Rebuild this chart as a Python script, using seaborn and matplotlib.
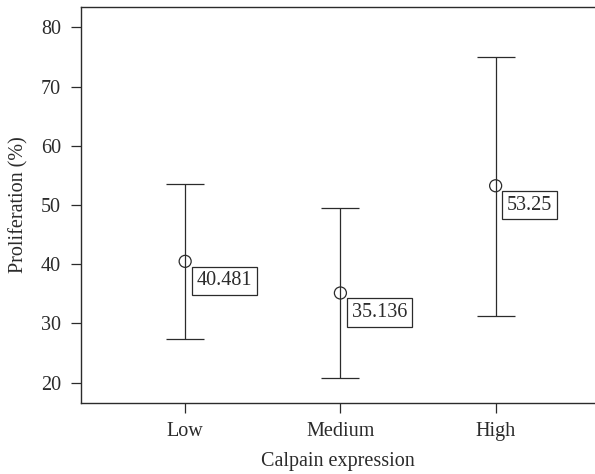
import matplotlib
matplotlib.use("Agg")
import matplotlib.pyplot as plt
import numpy as np
import pandas as pd
import seaborn as sns

# values
categories = ["Low", "Medium", "High"]
means = [40.481, 35.136, 53.25]
upper = [53.5, 49.5, 75.0]
lower = [27.4, 20.7, 31.3]
labels = ["40.481", "35.136", "53.25"]

sns.set_theme(style="ticks")
plt.rcParams["font.family"] = ["Liberation Serif", "DejaVu Serif"]

ink = "#2b2b2b"
fs = 14.5
df = pd.DataFrame({"group": categories, "mean": means,
                   "upper": upper, "lower": lower, "label": labels})
df["pos"] = np.arange(len(df))

fig = plt.figure(figsize=(5.95, 4.74), dpi=100)
ax = fig.add_axes([0.1356, 0.1504, 0.8644, 0.8342])

yerr = np.vstack([df["mean"] - df["lower"], df["upper"] - df["mean"]])
ax.errorbar(df["pos"], df["mean"], yerr=yerr, fmt="none", ecolor=ink,
            elinewidth=0.9, capsize=14, capthick=0.9, zorder=2)
sns.scatterplot(data=df, x="pos", y="mean", ax=ax, marker="o", s=75,
                facecolor="none", edgecolor=ink, linewidth=0.9, zorder=3)

# value boxes, just right of and below each mean
for _, row in df.iterrows():
    ax.annotate(row["label"], (row["pos"], row["mean"]), xytext=(8.2, -7.2),
                textcoords="offset points", ha="left", va="top",
                fontsize=fs, color=ink,
                bbox=dict(boxstyle="square,pad=0.23", fc="white",
                          ec=ink, lw=0.9))

ax.set_xlim(-0.673, 2.64)
ax.set_ylim(16.6, 83.4)
ax.set_xticks(df["pos"])
ax.set_xticklabels(categories)
ax.set_yticks([20, 30, 40, 50, 60, 70, 80])
ax.set_xlabel("Calpain expression", fontsize=fs, color=ink, labelpad=8)
ax.set_ylabel("Proliferation (%)", fontsize=fs, color=ink, labelpad=9)
ax.tick_params(axis="both", labelsize=fs, colors=ink, length=7.5,
               width=0.9, pad=6.5, direction="out")
for side in ["left", "top", "bottom"]:
    ax.spines[side].set_color(ink)
    ax.spines[side].set_linewidth(1.0)
    ax.spines[side].set_visible(True)
ax.spines["right"].set_visible(False)

fig.savefig("out.png", dpi=100)
